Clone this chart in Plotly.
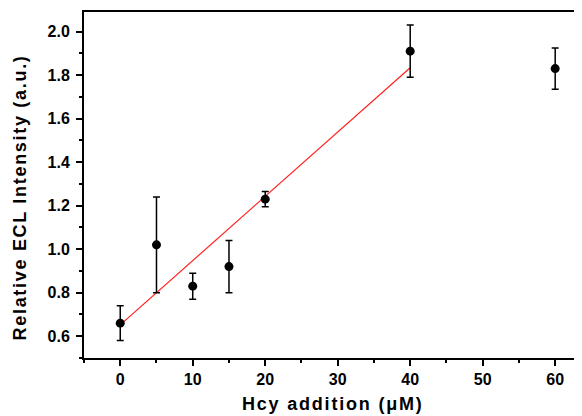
import plotly.graph_objects as go

# Data
hcy = [0, 5, 10, 15, 20, 40, 60]
intensity = [0.66, 1.02, 0.83, 0.92, 1.23, 1.91, 1.83]
err = [0.08, 0.22, 0.06, 0.12, 0.035, 0.12, 0.095]
fit_x = [0, 40]
fit_y = [0.652, 1.834]

x_ticks = [0, 10, 20, 30, 40, 50, 60]
y_ticks = [0.6, 0.8, 1.0, 1.2, 1.4, 1.6, 1.8, 2.0]

x_title = "Hcy addition (μM)"
y_title = "Relative ECL Intensity (a.u.)"

FONT = "Liberation Sans, Arial, sans-serif"

fig = go.Figure()
fig.add_trace(go.Scatter(
    x=fit_x, y=fit_y, mode="lines",
    line=dict(color="#ff2020", width=1.2), showlegend=False))
fig.add_trace(go.Scatter(
    x=hcy, y=intensity, mode="markers",
    marker=dict(color="black", size=9),
    error_y=dict(type="data", array=err, visible=True, color="black", thickness=1.5, width=3.5),
    showlegend=False))

fig.update_layout(
    width=574, height=408,
    margin=dict(l=76, r=0, t=4, b=58),
    plot_bgcolor="white", paper_bgcolor="white",
    font=dict(family=FONT, color="black"),
)
fig.update_xaxes(
    automargin=False,
    range=[-5, 63.7],
    tickvals=x_ticks, ticktext=[str(v) for v in x_ticks],
    ticks="outside", ticklen=6, tickwidth=1.5, tickcolor="black",
    minor=dict(dtick=5, tick0=0, ticks="outside", ticklen=3, tickwidth=1.5, tickcolor="black"),
    showline=True, linecolor="black", linewidth=2, mirror=True,
    showgrid=False, zeroline=False,
    tickfont=dict(size=16, family=FONT, weight="bold"),
)
fig.update_yaxes(
    automargin=False,
    range=[0.5, 2.09],
    tickvals=y_ticks, ticktext=["%.1f" % v for v in y_ticks],
    ticks="outside", ticklen=6, tickwidth=1.5, tickcolor="black",
    minor=dict(dtick=0.1, tick0=0.5, ticks="outside", ticklen=3, tickwidth=1.5, tickcolor="black"),
    showline=True, linecolor="black", linewidth=2, mirror=False,
    showgrid=False, zeroline=False,
    ticklabelstandoff=3,
    tickfont=dict(size=16, family=FONT, weight="bold"),
)

fig.add_annotation(
    text='<span style="letter-spacing:1.8px">' + x_title + '</span>',
    xref="paper", yref="paper", x=0.5, y=0, xanchor="center", yanchor="middle",
    yshift=-46, showarrow=False,
    font=dict(size=18, family=FONT, weight="bold", color="black"))
fig.add_annotation(
    text='<span style="letter-spacing:1.7px">' + y_title + '</span>',
    xref="paper", yref="paper", x=0, y=0.464, xanchor="center", yanchor="middle",
    xshift=-64, textangle=-90, showarrow=False,
    font=dict(size=18, family=FONT, weight="bold", color="black"))

fig.write_html("out.html")
